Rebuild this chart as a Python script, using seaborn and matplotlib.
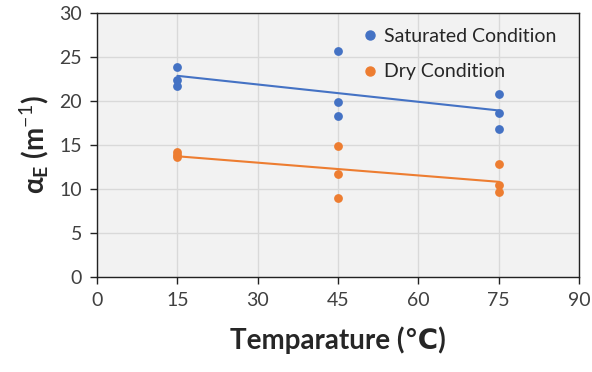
import numpy as np
import pandas as pd
import matplotlib
matplotlib.use("Agg")
import matplotlib.pyplot as plt
import seaborn as sns

temps = [15, 15, 15, 45, 45, 45, 75, 75, 75]
saturated = [23.9, 22.4, 21.7, 25.7, 19.9, 18.3, 20.8, 18.6, 16.8]
dry = [14.2, 13.9, 13.7, 14.9, 11.7, 9.0, 12.9, 10.5, 9.7]
series_names = ["Saturated Condition", "Dry Condition"]
colors = ["#4472C4", "#ED7D31"]
xticks = [0, 15, 30, 45, 60, 75, 90]
yticks = [0, 5, 10, 15, 20, 25, 30]

sns.set_theme(style="white")
plt.rcParams['font.family'] = ['Lato', 'DejaVu Sans']
plt.rcParams['mathtext.fontset'] = 'custom'
plt.rcParams['mathtext.rm'] = 'Lato'
plt.rcParams['mathtext.bf'] = 'Lato:bold'
plt.rcParams['mathtext.it'] = 'Lato:italic'

df = pd.DataFrame({"T": temps * 2,
                   "alpha": saturated + dry,
                   "cond": [series_names[0]] * len(temps) + [series_names[1]] * len(temps)})

fig = plt.figure(figsize=(5.92, 3.72), dpi=100)
ax = fig.add_axes([0.164, 0.255, 0.814, 0.71])
ax.set_facecolor("#F2F2F2")

for name, col in zip(series_names, colors):
    sub = df[df["cond"] == name]
    sns.regplot(data=sub, x="T", y="alpha", ax=ax, ci=None, color=col,
                scatter_kws=dict(s=40, linewidths=0, alpha=1, zorder=3),
                line_kws=dict(lw=1.5, zorder=2), label=name)

ax.set_xlim(0, 90)
ax.set_ylim(0, 30)
ax.set_xticks(xticks)
ax.set_yticks(yticks)
ax.grid(True, color="#D9D9D9", lw=1)
ax.set_axisbelow(True)
for s in ax.spines.values():
    s.set_color("#222222")
    s.set_linewidth(1.0)
ax.tick_params(axis="both", which="both", direction="out", length=5, width=1,
               color="#222222", labelsize=14, labelcolor="#404040", pad=6,
               bottom=True, left=True)
ax.set_xlabel("Temparature (\u2103)", fontsize=20, fontweight="bold", labelpad=12)
ax.set_ylabel(r"$\mathbf{\alpha_E}$ (m$^{-1}$)", fontsize=20, fontweight="bold", labelpad=6)

from matplotlib.lines import Line2D
handles = [Line2D([], [], marker="o", ls="", color=c, markersize=6.5) for c in colors]
ax.legend(handles, series_names, loc="upper right", frameon=False, fontsize=14,
          handlelength=0.8, handletextpad=0.35, labelspacing=0.95,
          bbox_to_anchor=(0.99, 1.01))

fig.savefig("out.png", dpi=100)
